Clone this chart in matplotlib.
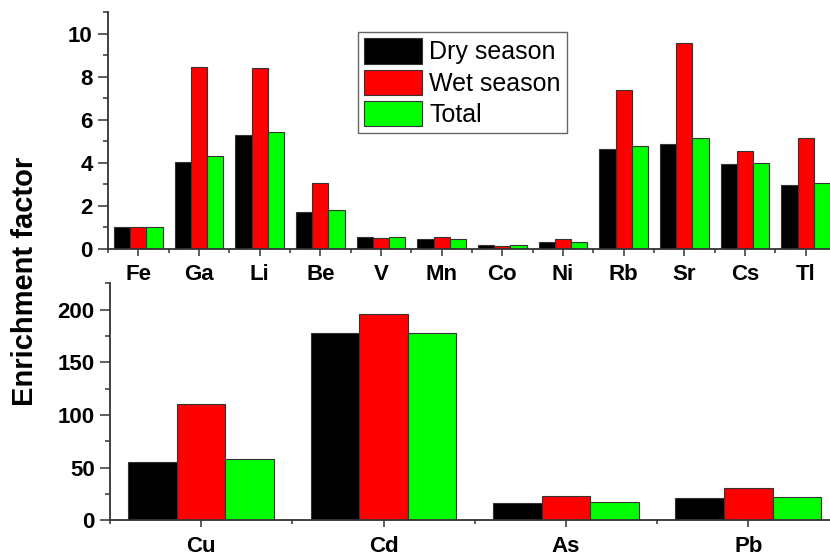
import numpy as np
import matplotlib
matplotlib.use("Agg")
import matplotlib.pyplot as plt
from matplotlib.ticker import MultipleLocator, FixedLocator

# 데이터: 위쪽 패널 (미량원소)
top_elements = ["Fe", "Ga", "Li", "Be", "V", "Mn", "Co", "Ni", "Rb", "Sr", "Cs", "Tl"]
top_dry = [1.0, 4.04, 5.27, 1.74, 0.57, 0.45, 0.20, 0.32, 4.62, 4.89, 3.94, 2.96]
top_wet = [1.0, 8.46, 8.41, 3.07, 0.51, 0.54, 0.15, 0.45, 7.36, 9.54, 4.54, 5.15]
top_total = [1.0, 4.31, 5.45, 1.80, 0.54, 0.45, 0.19, 0.31, 4.77, 5.17, 3.97, 3.07]

# 아래쪽 패널 (중금속)
bot_elements = ["Cu", "Cd", "As", "Pb"]
bot_dry = [55.5, 177.8, 16.7, 21.4]
bot_wet = [110.5, 196.2, 23.0, 30.3]
bot_total = [58.4, 178.2, 17.0, 21.8]

series_labels = ["Dry season", "Wet season", "Total"]
series_colors = ["#000000", "#ff0000", "#00ff00"]

plt.rcParams["font.family"] = ["Liberation Sans", "DejaVu Sans"]
spine_color = "#333333"


def draw_panel(ax, cats, values, ymax, ymajor, yminor):
    x = np.arange(len(cats))
    w = 0.8 / 3
    bars = []
    for i, (vals, col, lab) in enumerate(zip(values, series_colors, series_labels)):
        b = ax.bar(x + (i - 1) * w, vals, width=w, color=col, edgecolor=spine_color,
                   linewidth=0.8, label=lab, zorder=2)
        bars.append(b)
    ax.set_xlim(-0.5, len(cats) - 0.5)
    ax.set_ylim(0, ymax)
    ax.set_xticks(x)
    ax.set_xticklabels(cats, fontsize=16, fontweight="bold")
    ax.xaxis.set_minor_locator(FixedLocator(np.arange(-0.5, len(cats), 1.0)))
    ax.yaxis.set_major_locator(MultipleLocator(ymajor))
    ax.yaxis.set_minor_locator(MultipleLocator(yminor))
    for lab in ax.get_yticklabels():
        lab.set_fontweight("bold")
        lab.set_fontsize(16)
    ax.tick_params(axis="x", which="major", direction="out", length=5, width=1.1,
                   color=spine_color, pad=6)
    ax.tick_params(axis="x", which="minor", direction="out", length=3, width=1.1,
                   color=spine_color)
    ax.tick_params(axis="y", which="major", direction="out", length=7, width=1.1,
                   color=spine_color, pad=4)
    ax.tick_params(axis="y", which="minor", direction="out", length=3.5, width=1.1,
                   color=spine_color)
    for side in ["top", "right"]:
        ax.spines[side].set_visible(False)
    for side in ["left", "bottom"]:
        ax.spines[side].set_color(spine_color)
        ax.spines[side].set_linewidth(1.3)
    return bars


fig = plt.figure(figsize=(8.3, 5.56), dpi=100)
W, H = 830, 556

# 픽셀 기준 축 위치 (오른쪽은 그림 밖으로 살짝 나감)
ax_top = fig.add_axes([108 / W, 1 - 249 / H, (836 - 108) / W, (249 - 12) / H])
ax_bot = fig.add_axes([110 / W, 1 - 520.3 / H, (839.4 - 110) / W, (520.3 - 283.3) / H])

bars = draw_panel(ax_top, top_elements, [top_dry, top_wet, top_total], 11, 2, 1)
draw_panel(ax_bot, bot_elements, [bot_dry, bot_wet, bot_total], 225, 50, 25)

leg = fig.legend(handles=bars, labels=series_labels, loc="upper left",
                 bbox_to_anchor=(358 / W, 1 - 32 / H), bbox_transform=fig.transFigure,
                 borderaxespad=0, fontsize=18, handlelength=2.3, handleheight=1.2,
                 labelspacing=0.2, handletextpad=0.3, borderpad=0.25,
                 fancybox=False, framealpha=1, edgecolor="#666666")
leg.get_frame().set_linewidth(1.0)

fig.text(25 / W, 1 - 281 / H, "Enrichment factor", rotation=90, ha="center", va="center",
         fontsize=21, fontweight="bold")

fig.savefig("out.png", dpi=100)
